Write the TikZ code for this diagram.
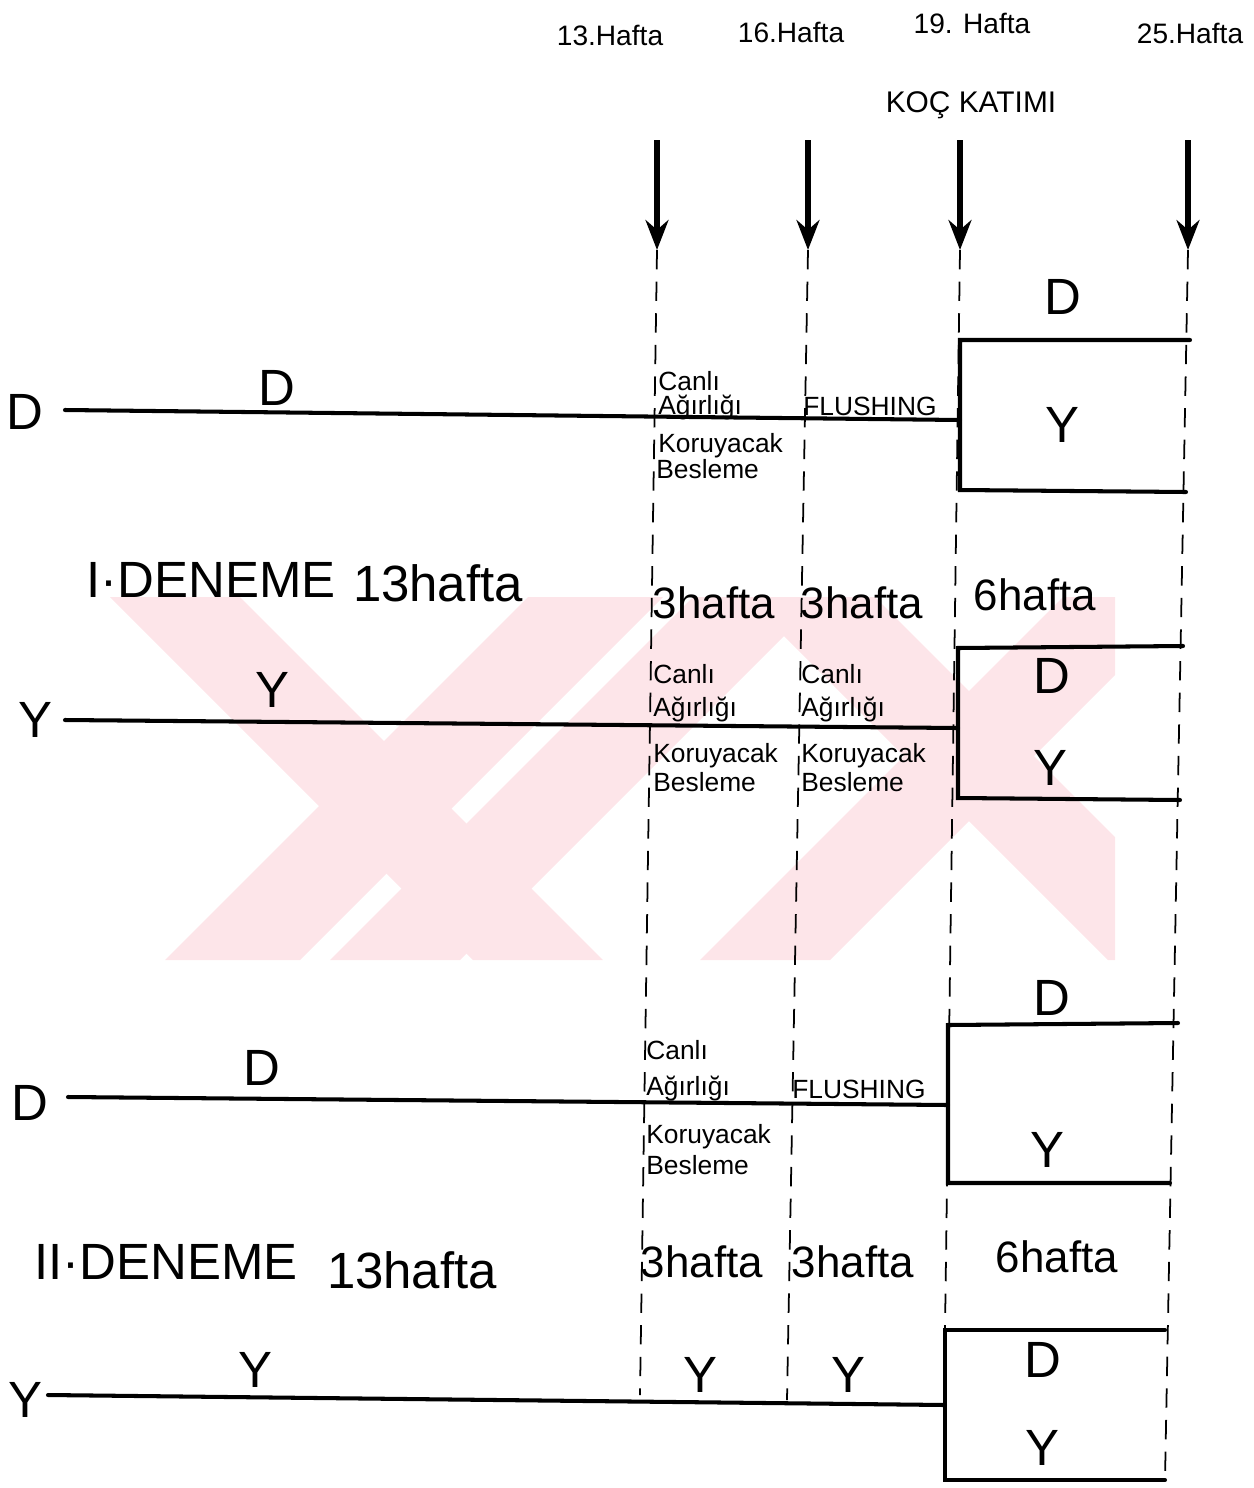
\documentclass[tikz,border=0pt]{standalone}
\usepackage{fontspec}
\setmainfont{Liberation Sans}
\usetikzlibrary{arrows.meta}

\definecolor{wmpink}{RGB}{253,229,233}

\tikzset{
  hline/.style={line width=2.3pt, line cap=round},
  wkline/.style={line width=1pt, dash pattern=on 11pt off 7pt},
  wkarrow/.style={line width=3pt, -{Stealth[length=17pt,width=13pt]}},
  small/.style={font=\fontsize{15}{15}\selectfont, inner sep=0pt, anchor=base west},
  head/.style={font=\fontsize{16}{16}\selectfont, inner sep=0pt},
  big/.style={font=\fontsize{29}{29}\selectfont, inner sep=0pt},
  mid/.style={font=\fontsize{25}{25}\selectfont, inner sep=0pt},
}

\begin{document}
\begin{tikzpicture}[x=0.02cm,y=-0.02cm]
\useasboundingbox (0,0) rectangle (1254,1488);

%%% watermark
\begin{scope}
\clip (100,597) rectangle (1115,960);
\fill[wmpink] (110,597) -- (240,597) -- (603,960) -- (473,960) -- cycle;
\fill[wmpink] (165,960) -- (300,960) -- (663,597) -- (528,597) -- cycle;
\fill[wmpink] (330,960) -- (460,960) -- (823,597) -- (693,597) -- cycle;
\fill[wmpink] (745,597) -- (875,597) -- (1238,960) -- (1108,960) -- cycle;
\fill[wmpink] (700,960) -- (830,960) -- (1193,597) -- (1063,597) -- cycle;
\end{scope}

%%% weeks
\node[head] (t13) at (610,35) {13.Hafta};
\node[head] (t16) at (791,32) {16.Hafta};
\node[head] (t19) at (972,23) {19. Hafta};
\node[head] (t25) at (1190,33) {25.Hafta};
\node[head, font=\fontsize{17}{17}\selectfont] (koc) at (971,105) {KOÇ KATIMI};

\coordinate (a13) at (657,140);
\coordinate (a16) at (808,140);
\coordinate (a19) at (960,140);
\coordinate (a25) at (1188,140);
\coordinate (w13t) at (657,250);
\coordinate (w16t) at (808,250);
\coordinate (w19t) at (960,250);
\coordinate (w25t) at (1188,250);
\coordinate (w13b) at (640,1395);
\coordinate (w16b) at (787,1400);
\coordinate (w19b) at (945,1330);
\coordinate (w25b) at (1165,1480);

\draw[wkarrow] (a13) to (w13t);
\draw[wkarrow] (a16) to (w16t);
\draw[wkarrow] (a19) to (w19t);
\draw[wkarrow] (a25) to (w25t);

\draw[wkline] (w13t) to (w13b);
\draw[wkline] (w16t) to (w16b);
\draw[wkline] (w19t) to (w19b);
\draw[wkline] (w25t) to (w25b);

%%% I. deneme, D
\coordinate (dIs) at (65,410);
\coordinate (dIe) at (960,420);
\draw[hline] (dIs) to (dIe);
\draw[hline] (1190,340) -- (960,340) -- (960,490) -- (1186,492);
\node[big] (dIl) at (25,412) {D};
\node[big] (dIt) at (277,388) {D};
\node[big] (dIbd) at (1063,297) {D};
\node[big] (dIby) at (1062,425) {Y};
\node[small] (dIc1) at (658,390) {Canlı};
\node[small] (dIc2) at (658,414) {Ağırlığı};
\node[small] (dIc3) at (658,452) {Koruyacak};
\node[small] (dIc4) at (656,478) {Besleme};
\node[small] (dIfl) at (803,415) {FLUSHING};

\node[big] (tI) at (211,580) {I·DENEME};
\node[big] (tIw) at (438,583) {13hafta};
\node[mid] (tI3a) at (714,603) {3hafta};
\node[mid] (tI3b) at (862,603) {3hafta};
\node[mid] (tI6) at (1035,595) {6hafta};

%%% I. deneme, Y
\coordinate (yIs) at (65,720);
\coordinate (yIe) at (958,728);
\draw[hline] (yIs) to (yIe);
\draw[hline] (1183,646) -- (958,648) -- (958,798) -- (1180,800);
\node[big] (yIl) at (35,720) {Y};
\node[big] (yIt) at (272,690) {Y};
\node[big] (yIbd) at (1052,676) {D};
\node[big] (yIby) at (1050,768) {Y};
\node[small] (yIc1) at (653,683) {Canlı};
\node[small] (yIc2) at (653,716) {Ağırlığı};
\node[small] (yIc3) at (653,762) {Koruyacak};
\node[small] (yIc4) at (653,791) {Besleme};
\node[small] (yIk1) at (801,683) {Canlı};
\node[small] (yIk2) at (801,716) {Ağırlığı};
\node[small] (yIk3) at (801,762) {Koruyacak};
\node[small] (yIk4) at (801,791) {Besleme};

%%% II. deneme, D
\coordinate (dIIs) at (68,1097);
\coordinate (dIIe) at (948,1105);
\draw[hline] (dIIs) to (dIIe);
\draw[hline] (1178,1023) -- (948,1025) -- (948,1183) -- (1170,1183);
\node[big] (dIIl) at (30,1103) {D};
\node[big] (dIIt) at (262,1068) {D};
\node[big] (dIIbd) at (1052,998) {D};
\node[big] (dIIby) at (1047,1150) {Y};
\node[small] (dIIc1) at (646,1059) {Canlı};
\node[small] (dIIc2) at (646,1095) {Ağırlığı};
\node[small] (dIIc3) at (646,1143) {Koruyacak};
\node[small] (dIIc4) at (646,1174) {Besleme};
\node[small] (dIIfl) at (792,1098) {FLUSHING};

\node[big] (tII) at (166,1262) {II·DENEME};
\node[big] (tIIw) at (412,1270) {13hafta};
\node[mid] (tII3a) at (702,1262) {3hafta};
\node[mid] (tII3b) at (853,1262) {3hafta};
\node[mid] (tII6) at (1057,1257) {6hafta};

%%% II. deneme, Y
\coordinate (yIIs) at (48,1395);
\coordinate (yIIe) at (945,1405);
\draw[hline] (yIIs) to (yIIe);
\draw[hline] (1165,1330) -- (945,1330) -- (945,1480) -- (1165,1480);
\node[big] (yIIl) at (25,1400) {Y};
\node[big] (yIIt) at (255,1370) {Y};
\node[big] (yIIa) at (700,1375) {Y};
\node[big] (yIIb) at (848,1375) {Y};
\node[big] (yIIbd) at (1043,1360) {D};
\node[big] (yIIby) at (1042,1448) {Y};
\end{tikzpicture}
\end{document}
